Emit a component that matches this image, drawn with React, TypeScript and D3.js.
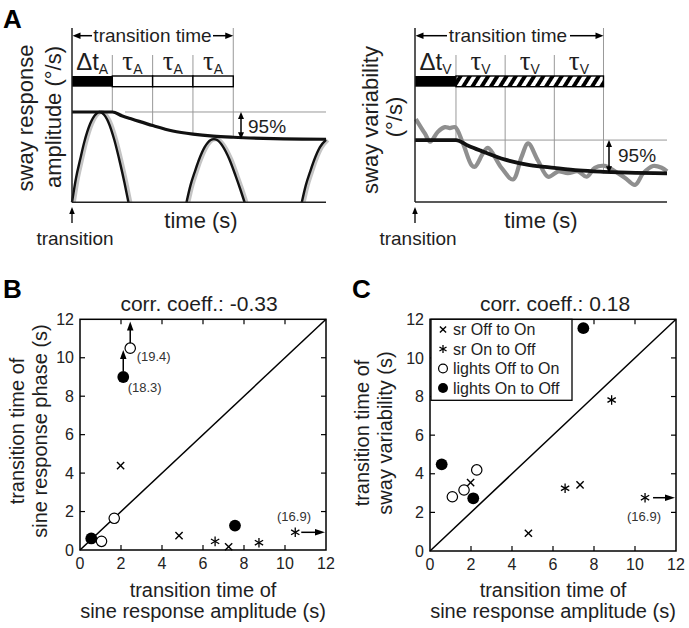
import React from 'react';
import * as d3 from 'd3';

const FONT = "'Liberation Sans', Arial, Helvetica, sans-serif";
const SERIF = "'Liberation Serif', 'DejaVu Serif', serif";
const INK = '#1e1e1e';

// ---------- Panel A (left): sine response amplitude schematic ----------
const segBoundsA = [0, 1, 2, 3, 4];
const ampEnvT = [0, 1, 1.25, 1.5, 2, 2.5, 3, 3.5, 4, 5, 6.3];
const ampEnvV = [1, 1, 0.955, 0.92, 0.85, 0.79, 0.755, 0.733, 0.72, 0.705, 0.698];
const hump1T = [0, 0.1, 0.2, 0.3, 0.45, 0.6, 0.68, 0.76, 0.9, 1.05, 1.2, 1.3, 1.4];
const hump1V = [0, 0.27, 0.47, 0.66, 0.87, 0.98, 1, 0.985, 0.89, 0.69, 0.42, 0.22, 0];
const hump2T = [2.84, 2.94, 3.04, 3.14, 3.29, 3.44, 3.52, 3.6, 3.74, 3.9, 4.06, 4.17, 4.28];
const hump2V = [0, 0.19, 0.33, 0.46, 0.61, 0.69, 0.7, 0.69, 0.62, 0.48, 0.29, 0.15, 0];
const hump3T = [5.7, 5.8, 5.9, 6.0, 6.15, 6.3];
const hump3V = [0, 0.19, 0.33, 0.46, 0.61, 0.69];

// ---------- Panel A (right): sway variability schematic ----------
const segBoundsV = [0, 1, 2.2, 3.4, 4.6];
const varEnvT = [0, 1, 1.3, 1.6, 2.2, 2.8, 3.4, 4, 4.6, 5.2, 6.15];
const varEnvV = [0.687, 0.687, 0.625, 0.57, 0.47, 0.41, 0.378, 0.35, 0.335, 0.325, 0.318];
const noiseT = [0.02, 0.24, 0.37, 0.56, 0.73, 0.85, 0.98, 1.17, 1.38, 1.46, 1.66, 1.78, 2.11, 2.39, 2.6, 2.76, 3.0, 3.25, 3.5, 3.73, 3.98, 4.19, 4.39, 4.63, 4.88, 5.12, 5.37, 5.57, 5.81, 6.02, 6.15];
const noiseV = [0.92, 0.76, 0.67, 0.78, 0.83, 0.82, 0.83, 0.65, 0.41, 0.39, 0.54, 0.6, 0.38, 0.25, 0.5, 0.65, 0.46, 0.28, 0.34, 0.32, 0.34, 0.28, 0.38, 0.4, 0.34, 0.27, 0.19, 0.32, 0.4, 0.38, 0.34];

// ---------- Panel B ----------
const ticks = [0, 2, 4, 6, 8, 10, 12];
const bSrOffOnX = [1.98, 4.83, 7.25];
const bSrOffOnY = [4.39, 0.75, 0.17];
const bSrOnOffX = [6.59, 8.73, 10.5];
const bSrOnOffY = [0.45, 0.38, 0.92];
const bLightsOffOnX = [1.05, 1.67, 2.45];
const bLightsOffOnY = [0.45, 1.65, 10.5];
const bLightsOnOffX = [0.55, 2.11, 7.56];
const bLightsOnOffY = [0.6, 9.0, 1.27];

// ---------- Panel C ----------
const cSrOffOnX = [1.98, 4.8, 7.32];
const cSrOffOnY = [3.54, 0.92, 3.42];
const cSrOnOffX = [6.59, 8.86, 10.49];
const cSrOnOffY = [3.25, 7.82, 2.76];
const cLightsOffOnX = [1.09, 1.66, 2.28];
const cLightsOffOnY = [2.81, 3.16, 4.2];
const cLightsOnOffX = [0.57, 2.11, 7.48];
const cLightsOnOffY = [4.49, 2.73, 11.54];

const legendLabels = ['sr Off to On', 'sr On to Off', 'lights Off to On', 'lights On to Off'];
const legendTypes = ['x', 'star', 'open', 'filled'];

const zip = (a: number[], b: number[]) => a.map((v, i) => [v, b[i]] as [number, number]);

function head(x: number, y: number, dir: 'up' | 'down' | 'left' | 'right', len = 8, w = 6.5) {
  const h = w / 2;
  let p = '';
  if (dir === 'up') p = `M${x},${y} L${x - h},${y + len} L${x + h},${y + len} Z`;
  if (dir === 'down') p = `M${x},${y} L${x - h},${y - len} L${x + h},${y - len} Z`;
  if (dir === 'left') p = `M${x},${y} L${x + len},${y - h} L${x + len},${y + h} Z`;
  if (dir === 'right') p = `M${x},${y} L${x - len},${y - h} L${x - len},${y + h} Z`;
  return <path d={p} fill="#000" />;
}

function Marker({ type, x, y, s = 1 }: { type: string; x: number; y: number; s?: number }) {
  if (type === 'x') {
    const r = 3.6 * s;
    return (
      <g stroke="#000" strokeWidth={1.4}>
        <line x1={x - r} y1={y - r} x2={x + r} y2={y + r} />
        <line x1={x - r} y1={y + r} x2={x + r} y2={y - r} />
      </g>
    );
  }
  if (type === 'star') {
    const r = 4.8 * s;
    const angs = [90, 30, 150];
    return (
      <g stroke="#000" strokeWidth={1.3}>
        {angs.map((a) => {
          const c = Math.cos((a * Math.PI) / 180) * r;
          const sn = Math.sin((a * Math.PI) / 180) * r;
          return <line key={a} x1={x - c} y1={y - sn} x2={x + c} y2={y + sn} />;
        })}
      </g>
    );
  }
  if (type === 'open') {
    return <circle cx={x} cy={y} r={5.2 * s} fill="#fff" stroke="#000" strokeWidth={1.2} />;
  }
  return <circle cx={x} cy={y} r={5.9 * s} fill="#000" />;
}

function Frame({ x0, x1, y0, y1, xs, ys }: any) {
  const tl = 5;
  return (
    <g>
      <rect x={x0} y={y1} width={x1 - x0} height={y0 - y1} fill="none" stroke="#000" strokeWidth={1.5} />
      {ticks.slice(1, -1).map((t) => (
        <g key={t} stroke="#000" strokeWidth={1.2}>
          <line x1={xs(t)} x2={xs(t)} y1={y0} y2={y0 - tl} />
          <line x1={xs(t)} x2={xs(t)} y1={y1} y2={y1 + tl} />
          <line x1={x0} x2={x0 + tl} y1={ys(t)} y2={ys(t)} />
          <line x1={x1} x2={x1 - tl} y1={ys(t)} y2={ys(t)} />
        </g>
      ))}
      {ticks.map((t) => (
        <text key={'x' + t} x={xs(t)} y={y0 + 19} fontSize={16} textAnchor="middle" fill="#222">{t}</text>
      ))}
      {ticks.map((t) => (
        <text key={'y' + t} x={x0 - 6} y={ys(t) + 5.7} fontSize={16} textAnchor="end" fill="#222">{t}</text>
      ))}
      <line x1={xs(0)} y1={ys(0)} x2={xs(12)} y2={ys(12)} stroke="#000" strokeWidth={1.5} />
    </g>
  );
}

export default function App() {
  const xA = d3.scaleLinear().domain([0, 6.3]).range([72, 326]);
  const yA = d3.scaleLinear().domain([0, 1.93]).range([202.3, 28]);
  const lineA = d3.line<[number, number]>().x((d) => xA(d[0])).y((d) => yA(d[1])).curve(d3.curveMonotoneX);
  const humps = [zip(hump1T, hump1V), zip(hump2T, hump2V), zip(hump3T, hump3V)];

  const xV = d3.scaleLinear().domain([0, 6.15]).range([415, 667]);
  const yV = d3.scaleLinear().domain([0, 1.93]).range([202, 28]);
  const lineV = d3.line<[number, number]>().x((d) => xV(d[0])).y((d) => yV(d[1])).curve(d3.curveMonotoneX);
  const lineN = d3.line<[number, number]>().x((d) => xV(d[0])).y((d) => yV(d[1])).curve(d3.curveCatmullRom.alpha(0.5));

  const xB = d3.scaleLinear().domain([0, 12]).range([80, 326]);
  const yB = d3.scaleLinear().domain([0, 12]).range([550, 319.3]);
  const xC = d3.scaleLinear().domain([0, 12]).range([430, 676]);
  const yC = d3.scaleLinear().domain([0, 12]).range([551, 319.3]);

  const envA = zip(ampEnvT, ampEnvV);
  const envV = zip(varEnvT, varEnvV);
  const lowA = ampEnvV[ampEnvV.length - 1];
  const lowV = varEnvV[varEnvV.length - 1];

  const barTop = 76;
  const barH = 10.7;
  const pts = (xs: number[], ys: number[]) => xs.map((v, i) => [v, ys[i]] as [number, number]);

  const segLabel = (i: number, cx: number, sub: string) => (
    <text key={'lab' + sub + i} x={cx} y={70} fontSize={24} textAnchor="middle">
      {i === 0 ? <tspan>Δt</tspan> : <tspan fontFamily={SERIF} fontSize={27}>τ</tspan>}
      <tspan fontSize={14} dy={4}>{sub}</tspan>
    </text>
  );

  return (
    <svg width={689} height={628} style={{ position: 'absolute', left: 0, top: 0, background: '#fff' }} fontFamily={FONT} fill={INK}>
      <defs>
        <pattern id="hatch" patternUnits="userSpaceOnUse" width={7.8} height={20} patternTransform="rotate(32)">
          <rect x={0} y={0} width={7.8} height={20} fill="#fff" />
          <rect x={0} y={0} width={3.9} height={20} fill="#000" />
        </pattern>
      </defs>
      <rect x={0} y={0} width={689} height={628} fill="#fff" />

      {/* ================= Panel A left ================= */}
      <text x={3} y={28} fontSize={26} fontWeight="bold" fill="#000">A</text>
      {segBoundsA.slice(1).map((t, i) => (
        <line key={t} x1={xA(t)} x2={xA(t)} y1={i === 3 ? 28 : 55} y2={yA(ampEnvV[ampEnvT.indexOf(t)])} stroke="#999" strokeWidth={1} />
      ))}
      <line x1={125} x2={326} y1={yA(1)} y2={yA(1)} stroke="#999" strokeWidth={1} />
      <line x1={xA(0) + 6} x2={92} y1={35.7} y2={35.7} stroke="#000" strokeWidth={1.5} />
      {head(xA(0) + 0.5, 35.7, 'left')}
      <line x1={213} x2={xA(4) - 6} y1={35.7} y2={35.7} stroke="#000" strokeWidth={1.5} />
      {head(xA(4), 35.7, 'right')}
      <text x={(92 + 213) / 2} y={41.7} fontSize={19} textAnchor="middle">transition time</text>
      {segBoundsA.slice(0, 4).map((t, i) => segLabel(i, (xA(t) + xA(segBoundsA[i + 1])) / 2, 'A'))}
      <rect x={xA(0)} y={barTop} width={xA(1) - xA(0)} height={barH} fill="#000" />
      {segBoundsA.slice(1, 4).map((t, i) => (
        <rect key={t} x={xA(t)} y={barTop} width={xA(segBoundsA[i + 2]) - xA(t)} height={barH} fill="#fff" stroke="#000" strokeWidth={1.4} />
      ))}
      {humps.map((h, i) => (
        <path key={'g' + i} d={lineA(h) || ''} transform="translate(1.8,0)" fill="none" stroke="#c4c4c4" strokeWidth={4.2} />
      ))}
      {humps.map((h, i) => (
        <path key={'b' + i} d={lineA(h) || ''} fill="none" stroke="#111" strokeWidth={2.4} />
      ))}
      <path d={lineA(envA) || ''} fill="none" stroke="#111" strokeWidth={3.2} />
      <line x1={241} x2={241} y1={yA(1) + 6} y2={yA(lowA) - 6} stroke="#000" strokeWidth={1.5} />
      {head(241, yA(1), 'up', 7, 6)}
      {head(241, yA(lowA), 'down', 7, 6)}
      <text x={248} y={133} fontSize={19}>95%</text>
      <line x1={xA(0)} x2={xA(0)} y1={28} y2={yA(0)} stroke="#222" strokeWidth={1.5} />
      <line x1={xA(0)} x2={326} y1={yA(0)} y2={yA(0)} stroke="#222" strokeWidth={1.5} />
      <text transform={`translate(33,118) rotate(-90)`} fontSize={22} textAnchor="middle">sway response</text>
      <text transform={`translate(61,117) rotate(-90)`} fontSize={22} textAnchor="middle">amplitude (°/s)</text>
      <text x={201} y={227.5} fontSize={22} textAnchor="middle">time (s)</text>
      <line x1={xA(0)} x2={xA(0)} y1={223} y2={213} stroke="#000" strokeWidth={1.3} />
      {head(xA(0), 207, 'up', 7, 5.5)}
      <text x={75} y={245} fontSize={19} textAnchor="middle">transition</text>

      {/* ================= Panel A right ================= */}
      {segBoundsV.slice(1).map((t, i) => {
        const yy = i === 3 ? yV(lowV) : yV(varEnvV[varEnvT.indexOf(t)] ?? lowV);
        return <line key={t} x1={xV(t)} x2={xV(t)} y1={i === 3 ? 28 : 55} y2={yy} stroke="#999" strokeWidth={1} />;
      })}
      <line x1={xV(1)} x2={667} y1={yV(varEnvV[0])} y2={yV(varEnvV[0])} stroke="#999" strokeWidth={1} />
      <line x1={xV(0) + 6} x2={447} y1={35.7} y2={35.7} stroke="#000" strokeWidth={1.5} />
      {head(xV(0) + 0.5, 35.7, 'left')}
      <line x1={570} x2={xV(4.6) - 6} y1={35.7} y2={35.7} stroke="#000" strokeWidth={1.5} />
      {head(xV(4.6), 35.7, 'right')}
      <text x={508} y={41.7} fontSize={19} textAnchor="middle">transition time</text>
      {segBoundsV.slice(0, 4).map((t, i) => segLabel(i, (xV(t) + xV(segBoundsV[i + 1])) / 2, 'V'))}
      <rect x={xV(0)} y={barTop} width={xV(1) - xV(0)} height={barH} fill="#000" />
      <rect x={xV(1)} y={barTop} width={xV(4.6) - xV(1)} height={barH} fill="url(#hatch)" stroke="#000" strokeWidth={1.4} />
      <path d={lineN(zip(noiseT, noiseV)) || ''} fill="none" stroke="#8f8f8f" strokeWidth={4.2} strokeLinejoin="round" />
      <path d={lineV(envV) || ''} fill="none" stroke="#111" strokeWidth={3.8} />
      <line x1={609} x2={609} y1={yV(varEnvV[0]) + 6} y2={yV(lowV) - 6} stroke="#000" strokeWidth={1.5} />
      {head(609, yV(varEnvV[0]), 'up', 7, 6)}
      {head(609, yV(lowV), 'down', 7, 6)}
      <text x={618} y={161.5} fontSize={19}>95%</text>
      <line x1={xV(0)} x2={xV(0)} y1={28} y2={yV(0)} stroke="#222" strokeWidth={1.5} />
      <line x1={xV(0)} x2={667} y1={yV(0)} y2={yV(0)} stroke="#222" strokeWidth={1.5} />
      <text transform={`translate(378,120) rotate(-90)`} fontSize={22} textAnchor="middle">sway variability</text>
      <text transform={`translate(402,117) rotate(-90)`} fontSize={22} textAnchor="middle">(°/s)</text>
      <text x={541} y={227.5} fontSize={22} textAnchor="middle">time (s)</text>
      <line x1={xV(0)} x2={xV(0)} y1={223} y2={213} stroke="#000" strokeWidth={1.3} />
      {head(xV(0), 207, 'up', 7, 5.5)}
      <text x={418} y={245} fontSize={19} textAnchor="middle">transition</text>

      {/* ================= Panel B ================= */}
      <text x={3} y={298} fontSize={26} fontWeight="bold" fill="#000">B</text>
      <text x={199} y={311} fontSize={21} textAnchor="middle">corr. coeff.: -0.33</text>
      <Frame x0={80} x1={326} y0={550} y1={319.3} xs={xB} ys={yB} />
      {pts(bSrOffOnX, bSrOffOnY).map((d, i) => <Marker key={'bx' + i} type="x" x={xB(d[0])} y={yB(d[1])} />)}
      {pts(bSrOnOffX, bSrOnOffY).map((d, i) => <Marker key={'bs' + i} type="star" x={xB(d[0])} y={yB(d[1])} />)}
      {pts(bLightsOffOnX, bLightsOffOnY).map((d, i) => <Marker key={'bo' + i} type="open" x={xB(d[0])} y={yB(d[1])} />)}
      {pts(bLightsOnOffX, bLightsOnOffY).map((d, i) => <Marker key={'bf' + i} type="filled" x={xB(d[0])} y={yB(d[1])} />)}
      <line x1={xB(bLightsOnOffX[1])} x2={xB(bLightsOnOffX[1])} y1={yB(bLightsOnOffY[1]) - 6} y2={356} stroke="#000" strokeWidth={1.5} />
      {head(xB(bLightsOnOffX[1]), 350, 'up', 9, 6.5)}
      <text x={127.7} y={391.7} fontSize={13} fill="#333">(18.3)</text>
      <line x1={xB(bLightsOffOnX[2])} x2={xB(bLightsOffOnX[2])} y1={yB(bLightsOffOnY[2]) - 5} y2={328} stroke="#000" strokeWidth={1.5} />
      {head(xB(bLightsOffOnX[2]), 321.5, 'up', 9, 6.5)}
      <text x={136.7} y={361} fontSize={13} fill="#333">(19.4)</text>
      <line x1={xB(bSrOnOffX[2]) + 6} x2={318} y1={yB(bSrOnOffY[2])} y2={yB(bSrOnOffY[2])} stroke="#000" strokeWidth={1.5} />
      {head(325, yB(bSrOnOffY[2]), 'right', 10, 6.5)}
      <text x={294} y={521} fontSize={13} textAnchor="middle" fill="#333">(16.9)</text>
      <text transform={`translate(24,431) rotate(-90)`} fontSize={20} textAnchor="middle">transition time of</text>
      <text transform={`translate(47,431) rotate(-90)`} fontSize={20} textAnchor="middle">sine response phase (s)</text>
      <text x={203} y={597} fontSize={20} textAnchor="middle">transition time of</text>
      <text x={203} y={617.5} fontSize={20} textAnchor="middle">sine response amplitude (s)</text>

      {/* ================= Panel C ================= */}
      <text x={352} y={298} fontSize={26} fontWeight="bold" fill="#000">C</text>
      <text x={555} y={311} fontSize={21} textAnchor="middle">corr. coeff.: 0.18</text>
      <Frame x0={430} x1={676} y0={551} y1={319.3} xs={xC} ys={yC} />
      {pts(cSrOffOnX, cSrOffOnY).map((d, i) => <Marker key={'cx' + i} type="x" x={xC(d[0])} y={yC(d[1])} />)}
      {pts(cSrOnOffX, cSrOnOffY).map((d, i) => <Marker key={'cs' + i} type="star" x={xC(d[0])} y={yC(d[1])} />)}
      {pts(cLightsOffOnX, cLightsOffOnY).map((d, i) => <Marker key={'co' + i} type="open" x={xC(d[0])} y={yC(d[1])} />)}
      {pts(cLightsOnOffX, cLightsOnOffY).map((d, i) => <Marker key={'cf' + i} type="filled" x={xC(d[0])} y={yC(d[1])} />)}
      <line x1={xC(cSrOnOffX[2]) + 8} x2={668} y1={yC(cSrOnOffY[2])} y2={yC(cSrOnOffY[2])} stroke="#000" strokeWidth={1.5} />
      {head(675, yC(cSrOnOffY[2]), 'right', 10, 6.5)}
      <text x={644} y={521} fontSize={13} textAnchor="middle" fill="#333">(16.9)</text>
      <rect x={431} y={319.3} width={141} height={81} fill="#fff" stroke="#000" strokeWidth={1.3} />
      {legendLabels.map((l, i) => (
        <g key={l}>
          <Marker type={legendTypes[i]} x={443} y={329.5 + i * 19.5} s={0.85} />
          <text x={453} y={335 + i * 19.5} fontSize={16}>{l}</text>
        </g>
      ))}
      <text transform={`translate(369,433) rotate(-90)`} fontSize={20} textAnchor="middle">transition time of</text>
      <text transform={`translate(392,433) rotate(-90)`} fontSize={20} textAnchor="middle">sway variability (s)</text>
      <text x={553} y={597} fontSize={20} textAnchor="middle">transition time of</text>
      <text x={553} y={617.5} fontSize={20} textAnchor="middle">sine response amplitude (s)</text>
    </svg>
  );
}
